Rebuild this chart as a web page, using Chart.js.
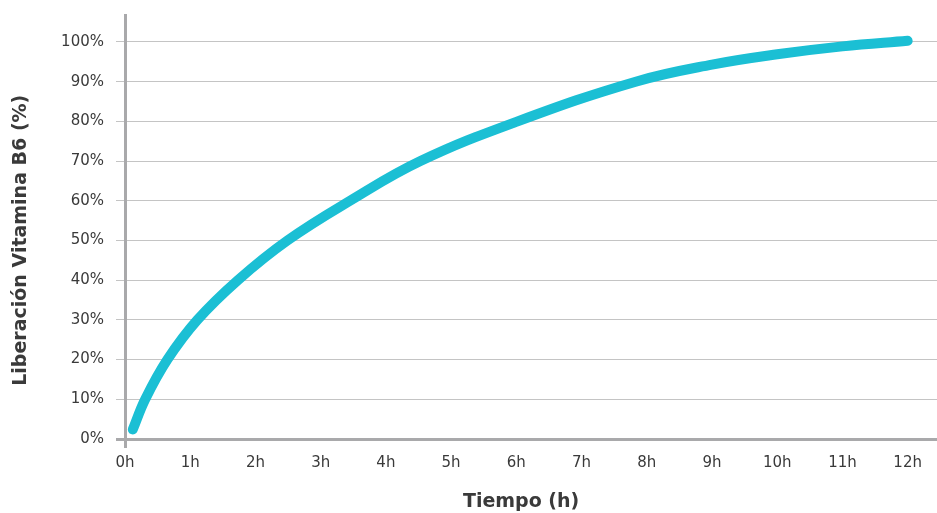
<!DOCTYPE html>
<html>
<head>
<meta charset="utf-8">
<script src="https://cdn.jsdelivr.net/npm/chart.js@4/dist/chart.umd.min.js"></script>
<style>
  html, body { margin: 0; padding: 0; background: #fff; }
  #wrap { width: 937px; height: 513px; }
</style>
</head>
<body>
<div id="wrap"><canvas id="releaseChart"></canvas></div>
<script>
// hours and release (%) (mostly where it crosses the grid lines)
const hours = [0.12, 0.31, 0.65, 1.11, 1.73, 2.49, 3.45, 4.53, 6.02, 7.83, 9, 10, 11, 12];
const release = [2.4, 10, 20, 30, 40, 50, 60, 70, 80, 90, 94.3, 96.9, 98.9, 100.3];
const yTicks = [0, 10, 20, 30, 40, 50, 60, 70, 80, 90, 100];
const xTicks = [0, 1, 2, 3, 4, 5, 6, 7, 8, 9, 10, 11, 12];

const axisGray = '#a9a9ab';
const gridGray = '#c4c4c4';
const textColor = '#3a3a3a';
const font = 'DejaVu Sans';

const points = hours.map(function(h, i) { return { x: h, y: release[i] }; });

new Chart(document.getElementById('releaseChart'), {
  type: 'scatter',
  data: {
    datasets: [{
      data: points,
      showLine: true,
      borderColor: '#1bbfd4',
      borderWidth: 10,
      borderCapStyle: 'round',
      borderJoinStyle: 'round',
      tension: 0.4,
      pointRadius: 0
    }]
  },
  options: {
    responsive: true,
    maintainAspectRatio: false,
    animation: false,
    layout: { padding: { top: 15, right: 0, left: 0, bottom: 0 } },
    plugins: { legend: { display: false }, tooltip: { enabled: false } },
    scales: {
      x: {
        type: 'linear',
        min: 0,
        max: 12.45,
        afterBuildTicks: function(scale) {
          scale.ticks = xTicks.map(function(v) { return { value: v }; });
        },
        afterFit: function(scale) {
          scale.height = 74;
          scale.paddingLeft = 0;
          scale.paddingRight = 0;
        },
        border: { color: axisGray, width: 3 },
        grid: {
          drawOnChartArea: false,
          tickLength: 9,
          lineWidth: 3,
          color: function(ctx) { return ctx.tick && ctx.tick.value === 0 ? axisGray : 'rgba(0,0,0,0)'; }
        },
        ticks: {
          padding: 6,
          color: textColor,
          font: { family: font, size: 15 },
          callback: function(v) { return v + 'h'; }
        },
        title: {
          display: true,
          text: 'Tiempo (h)\u00a0\u00a0\u00a0',
          color: textColor,
          font: { family: font, size: 19, weight: 'bold' },
          padding: { top: 12, bottom: 0 }
        }
      },
      y: {
        min: 0,
        max: 106.8,
        afterBuildTicks: function(scale) {
          scale.ticks = yTicks.map(function(v) { return { value: v }; });
        },
        afterFit: function(scale) {
          scale.width = 125;
          scale.paddingTop = 0;
          scale.paddingBottom = 0;
        },
        border: { color: axisGray, width: 3 },
        grid: {
          tickLength: 9,
          color: function(ctx) { return ctx.tick && ctx.tick.value === 0 ? axisGray : gridGray; },
          lineWidth: function(ctx) { return ctx.tick && ctx.tick.value === 0 ? 3 : 1; }
        },
        ticks: {
          padding: 12,
          color: textColor,
          font: { family: font, size: 15 },
          callback: function(v) { return v + '%'; }
        },
        title: {
          display: true,
          text: 'Liberación Vitamina B6 (%)\u00a0\u00a0\u00a0\u00a0',
          color: textColor,
          font: { family: font, size: 19, weight: 'bold' },
          padding: { top: 10, bottom: 0 }
        }
      }
    }
  }
});
</script>
</body>
</html>
